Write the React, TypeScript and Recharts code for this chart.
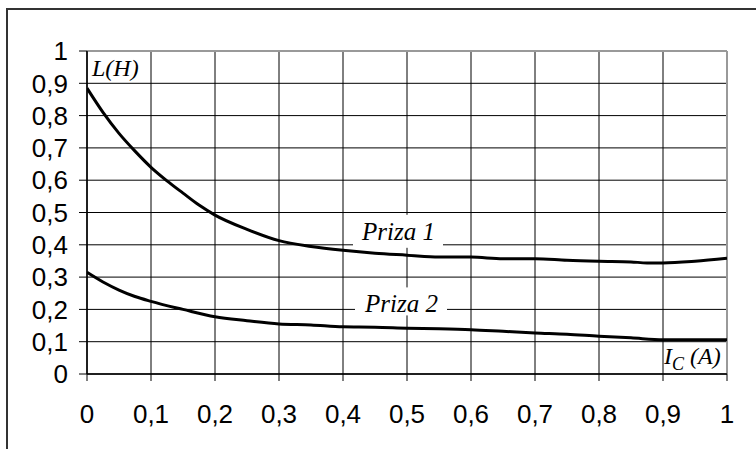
import React from "react";
import { LineChart, Line, XAxis, YAxis, CartesianGrid, ReferenceLine, ReferenceDot } from "recharts";

const priza1Current = [0, 0.025, 0.05, 0.075, 0.1, 0.125, 0.15, 0.175, 0.2, 0.25, 0.3, 0.35, 0.4, 0.45, 0.5, 0.55, 0.6, 0.65, 0.7, 0.75, 0.8, 0.85, 0.875, 0.9, 0.95, 1.0];
const priza1L = [0.885, 0.81, 0.745, 0.69, 0.64, 0.598, 0.56, 0.523, 0.492, 0.448, 0.413, 0.395, 0.383, 0.374, 0.368, 0.362, 0.362, 0.357, 0.357, 0.352, 0.349, 0.347, 0.344, 0.344, 0.349, 0.358];

const priza2Current = [0, 0.025, 0.05, 0.075, 0.1, 0.15, 0.2, 0.25, 0.3, 0.35, 0.4, 0.45, 0.5, 0.55, 0.6, 0.65, 0.7, 0.75, 0.8, 0.85, 0.9, 0.95, 1.0];
const priza2L = [0.315, 0.285, 0.26, 0.24, 0.225, 0.2, 0.177, 0.165, 0.155, 0.152, 0.146, 0.145, 0.142, 0.14, 0.137, 0.132, 0.127, 0.123, 0.117, 0.112, 0.106, 0.106, 0.106];

const xTicks = [0, 0.1, 0.2, 0.3, 0.4, 0.5, 0.6, 0.7, 0.8, 0.9, 1];
const yTicks = [0, 0.1, 0.2, 0.3, 0.4, 0.5, 0.6, 0.7, 0.8, 0.9, 1];

const seriesNames = ["Priza 1", "Priza 2"];
const yAxisTitle = "L(H)";

const priza1Data = priza1Current.map((x, i) => ({ x, y: priza1L[i] }));
const priza2Data = priza2Current.map((x, i) => ({ x, y: priza2L[i] }));

const fmt = (v: number) => String(v).replace(".", ",");

const serif = "'Liberation Serif', 'Times New Roman', serif";
const sans = "'Liberation Sans', Arial, sans-serif";

const BoxLabel = (props: any) => {
  const { cx, cy, text, bx0, bx1, by0, by1, tx, ty } = props;
  return (
    <g>
      <rect x={cx + bx0} y={cy + by0} width={bx1 - bx0} height={by1 - by0} fill="#fff" />
      <text x={cx + tx} y={cy + ty} fontFamily={serif} fontStyle="italic" fontSize={25} fill="#000">
        {text}
      </text>
    </g>
  );
};

const AxisTitleY = (props: any) => {
  const { cx, cy } = props;
  return (
    <text x={cx + 5} y={cy + 25} fontFamily={serif} fontStyle="italic" fontSize={24} fill="#000">
      {yAxisTitle}
    </text>
  );
};

const AxisTitleX = (props: any) => {
  const { cx, cy } = props;
  return (
    <text x={cx - 63} y={cy - 10} fontFamily={serif} fontStyle="italic" fontSize={24} fill="#000">
      I
      <tspan fontSize={18} dy={6}>C</tspan>
      <tspan dy={-6}> (A)</tspan>
    </text>
  );
};

const tickStyle = { fill: "#000", fontFamily: sans, fontSize: 26 };

export default function App() {
  return (
    <div style={{ position: "absolute", left: 0, top: 0, width: 756, height: 449, background: "#fff", overflow: "hidden" }}>
      <div
        style={{
          position: "absolute",
          left: 6,
          top: 8,
          width: 800,
          height: 500,
          borderTop: "2px solid #333",
          borderLeft: "2px solid #333",
        }}
      />
      <div style={{ position: "absolute", left: 0, top: 0 }}>
        <LineChart width={756} height={449} margin={{ top: 51, right: 29, left: 0, bottom: 0 }}>
          <CartesianGrid stroke="#000" strokeWidth={1} />
          <XAxis
            type="number"
            dataKey="x"
            domain={[0, 1]}
            ticks={xTicks}
            interval={0}
            tickFormatter={fmt}
            height={75}
            tickSize={7}
            tickMargin={24}
            axisLine={{ stroke: "#000", strokeWidth: 1.5 }}
            tickLine={{ stroke: "#000" }}
            tick={tickStyle}
            allowDataOverflow
          />
          <YAxis
            type="number"
            dataKey="y"
            domain={[0, 1]}
            ticks={yTicks}
            interval={0}
            tickFormatter={fmt}
            width={87}
            tickSize={8}
            tickMargin={11}
            axisLine={{ stroke: "#000", strokeWidth: 1.5 }}
            tickLine={{ stroke: "#000" }}
            tick={tickStyle}
            allowDataOverflow
          />
          <ReferenceLine y={1} stroke="#999" strokeWidth={2} />
          <ReferenceLine x={1} stroke="#999" strokeWidth={2} />
          <ReferenceDot
            x={0.5}
            y={0.4}
            r={0}
            shape={(p: any) => (
              <BoxLabel {...p} text={seriesNames[0]} bx0={-54} bx1={36} by0={-30} by1={3} tx={-45} ty={-5} />
            )}
          />
          <ReferenceDot
            x={0.5}
            y={0.2}
            r={0}
            shape={(p: any) => (
              <BoxLabel {...p} text={seriesNames[1]} bx0={-52} bx1={40} by0={-22} by1={6} tx={-42} ty={3} />
            )}
          />
          <ReferenceDot x={0} y={1} r={0} shape={(p: any) => <AxisTitleY {...p} />} />
          <ReferenceDot x={1} y={0} r={0} shape={(p: any) => <AxisTitleX {...p} />} />
          <Line
            data={priza1Data}
            dataKey="y"
            type="monotone"
            stroke="#000"
            strokeWidth={3}
            dot={false}
            isAnimationActive={false}
          />
          <Line
            data={priza2Data}
            dataKey="y"
            type="monotone"
            stroke="#000"
            strokeWidth={3}
            dot={false}
            isAnimationActive={false}
          />
        </LineChart>
      </div>
    </div>
  );
}
